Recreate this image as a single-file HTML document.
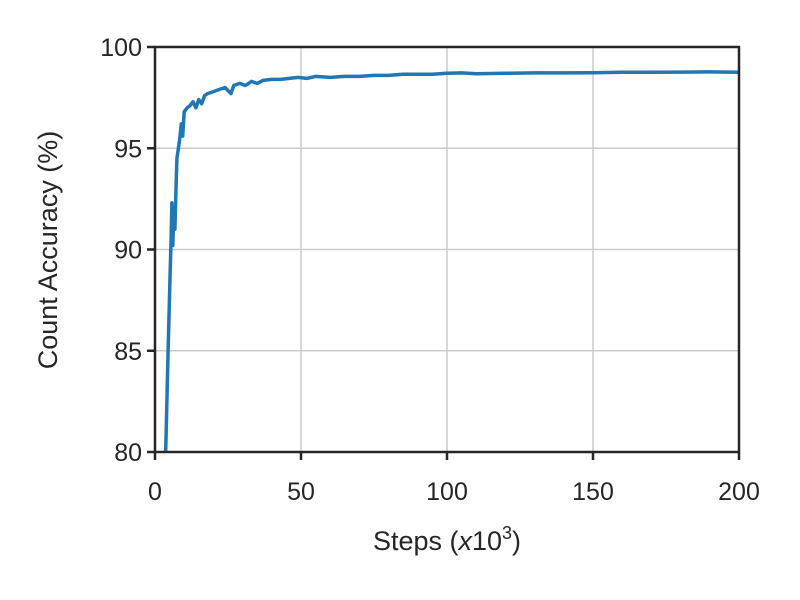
<!DOCTYPE html>
<html><head><meta charset="utf-8"><style>
body{margin:0;background:#fff}
svg{display:block}
text{font-family:"Liberation Sans",Arial,sans-serif;fill:#262626}
</style></head><body>
<svg id="chart" width="800" height="600">
<defs><clipPath id="clip"><rect x="155" y="47" width="584" height="405"/></clipPath></defs>
<g id="grid"></g>
<g id="series" clip-path="url(#clip)"></g>
<rect x="155" y="47" width="584" height="405" fill="none" stroke="#262626" stroke-width="2.5"/>
<g id="ticks"></g>
<text x="447" y="550" font-size="27" text-anchor="middle">Steps (<tspan font-style="italic">x</tspan>10<tspan dy="-11" font-size="18">3</tspan><tspan dy="11">)</tspan></text>
<text transform="translate(57,250) rotate(-90)" font-size="27" text-anchor="middle">Count Accuracy (%)</text>
</svg>
<script>
const xTicks=[0,50,100,150,200];
const yTicks=[80,85,90,95,100];
const steps=[3.5,4.5,5.2,5.5,5.8,6.1,6.5,6.8,7.2,7.5,8,8.5,9,9.5,10,11,12,13,14,15,16,17,18,20,22,24,26,27,29,31,33,35,37,40,43,46,49,52,55,60,65,70,75,80,85,90,95,100,105,110,120,130,140,150,160,170,180,190,200];
const accuracy=[79,85,89,90.5,92.3,90.2,92.0,91.0,93,94.5,95,95.5,96.2,95.6,96.8,97.0,97.1,97.3,97.0,97.4,97.2,97.6,97.7,97.8,97.9,98.0,97.7,98.1,98.2,98.1,98.3,98.2,98.35,98.4,98.4,98.45,98.5,98.45,98.55,98.5,98.55,98.55,98.6,98.6,98.65,98.65,98.65,98.7,98.72,98.68,98.7,98.72,98.72,98.73,98.75,98.75,98.76,98.77,98.75];
const X=v=>155+(v-0)/200*584;
const Y=v=>452-(v-80)/20*405;
const NS="http://www.w3.org/2000/svg";
const grid=document.getElementById('grid'),ticks=document.getElementById('ticks'),series=document.getElementById('series');
function mk(tag,attrs,parent){const e=document.createElementNS(NS,tag);for(const k in attrs)e.setAttribute(k,attrs[k]);parent.appendChild(e);return e;}
xTicks.forEach(t=>{
  const g=mk('line',{x1:X(t),x2:X(t),y1:47,y2:452,stroke:'#cccccc','stroke-width':1.5},grid);
  
  
  const l=mk('line',{x1:X(t),x2:X(t),y1:452,y2:460,stroke:'#262626','stroke-width':2.5},ticks);
  
  
  const tx=mk('text',{x:X(t),y:500,'font-size':25,'text-anchor':'middle'},ticks);
  tx.textContent=t;
  
  
});
yTicks.forEach(t=>{
  const g=mk('line',{x1:155,x2:739,y1:Y(t),y2:Y(t),stroke:'#cccccc','stroke-width':1.5},grid);
  
  
  const l=mk('line',{x1:147,x2:155,y1:Y(t),y2:Y(t),stroke:'#262626','stroke-width':2.5},ticks);
  
  
  const tx=mk('text',{x:142,y:Y(t)+9,'font-size':25,'text-anchor':'end'},ticks);
  tx.textContent=t;
  
  
});
const d=steps.map((s,i)=>(i?'L':'M')+X(s).toFixed(1)+','+Y(accuracy[i]).toFixed(1)).join(' ');
const p=mk('path',{d:d,fill:'none',stroke:'#1f77b4','stroke-width':3.5,'stroke-linejoin':'round'},series);


</script>
</body></html>
